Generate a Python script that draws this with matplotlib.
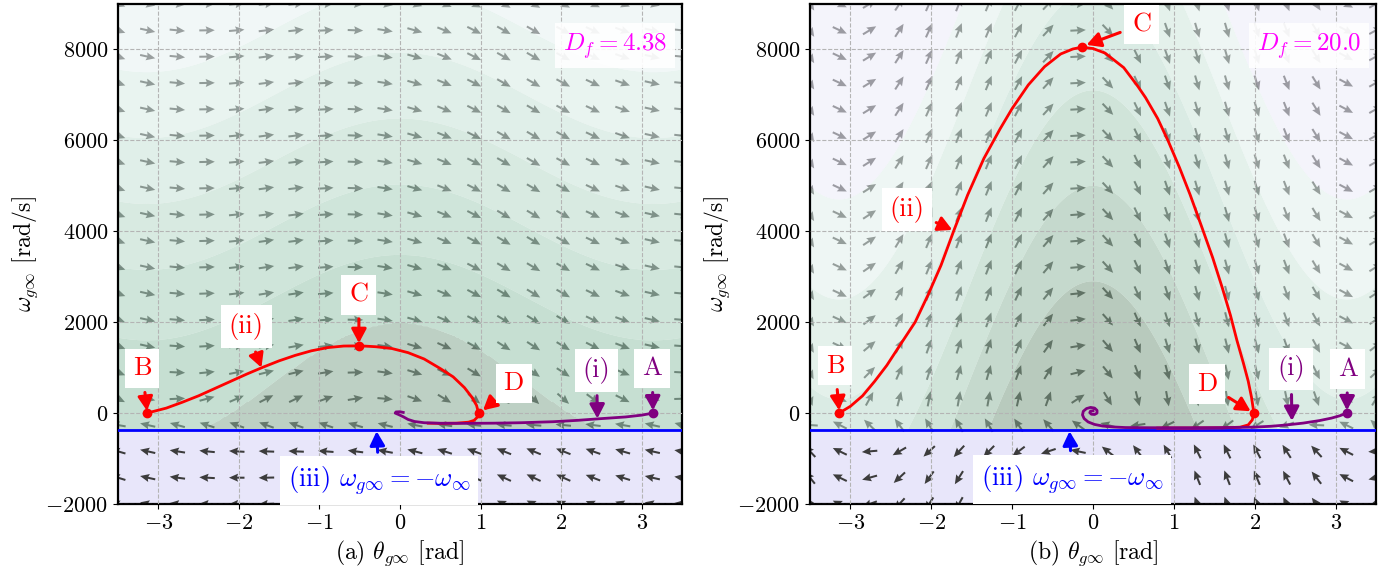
import numpy as np
import matplotlib
matplotlib.use("Agg")
import matplotlib.pyplot as plt
from matplotlib.colors import to_rgb

plt.rcParams['mathtext.fontset'] = 'cm'
plt.rcParams['font.family'] = 'serif'
plt.rcParams['font.serif'] = ['cmr10']
plt.rcParams['axes.formatter.use_mathtext'] = True

w_inf = 377.0
theta_lim = (-3.5, 3.5)
omega_lim = (-2000, 9000)
n_arrows = 20

# panel (a), D_f = 4.38
df_a = '4.38'
ii_a_theta = [-3.14, -2.9, -2.7, -2.5, -2.3, -2.1, -1.9, -1.7, -1.5, -1.3, -1.1, -0.9, -0.7,
              -0.5, -0.3, -0.1, 0.1, 0.3, 0.5, 0.66, 0.8, 0.89, 0.95, 0.975, 0.96, 0.92,
              0.85, 0.7, 0.5, 0.35]
ii_a_omega = [0, 110, 240, 380, 540, 700, 860, 1010, 1150, 1270, 1370, 1440, 1475,
              1480, 1460, 1420, 1330, 1190, 980, 797, 560, 354, 170, 0, -90, -160,
              -200, -222, -226, -222]
i_a_theta = [3.14, 3.0, 2.8, 2.47, 2.2, 1.9, 1.5, 1.16, 0.8, 0.5, 0.3, 0.18, 0.1, 0.04,
             -0.02, -0.06, -0.05, 0.0, 0.04]
i_a_omega = [0, -45, -85, -125, -160, -190, -212, -222, -226, -224, -212, -185, -140, -80,
             -30, 0, 25, 30, 15]
pt_a_theta = [3.14, -3.14, -0.51, 0.975]   # A, B, C, D
pt_a_omega = [0, 0, 1480, 0]

# panel (b), D_f = 20.0
df_b = '20.0'
ii_b_theta = [-3.14, -3.0, -2.85, -2.7, -2.55, -2.4, -2.2, -2.04, -1.88, -1.72, -1.55, -1.35,
              -1.15, -1.0, -0.8, -0.6, -0.4, -0.25, -0.14, 0.0, 0.15, 0.38, 0.55, 0.65, 0.8,
              0.93, 1.07, 1.2, 1.34, 1.48, 1.6, 1.7, 1.78, 1.86, 1.92, 1.96, 1.99, 1.97,
              1.92, 1.82, 1.6, 1.2, 0.8]
ii_b_omega = [0, 150, 380, 700, 1050, 1460, 2000, 2600, 3250, 4020, 4800, 5600,
              6250, 6700, 7220, 7620, 7900, 8010, 8050, 8020, 7920, 7600, 7200, 6940, 6480,
              5985, 5400, 4810, 4120, 3420, 2750, 2150, 1600, 1100, 700, 350, 0, -150,
              -260, -310, -325, -330, -330]
i_b_theta = [3.14, 3.05, 2.95, 2.8, 2.6, 2.4, 2.2, 2.0, 1.7, 1.2, 0.7, 0.4, 0.25, 0.12,
             0.02, -0.06, -0.11, -0.13, -0.12, -0.08, -0.03, 0.02, 0.05, 0.05, 0.02,
             -0.02, -0.04, -0.03, 0.0]
i_b_omega = [0, -60, -110, -165, -220, -260, -290, -308, -318, -322, -322, -318, -305,
             -285, -250, -195, -120, -40, 40, 100, 125, 110, 60, 0, -30, -25, 10, 45, 50]
pt_b_theta = [3.14, -3.14, -0.14, 1.99]
pt_b_omega = [0, 0, 8050, 0]

# vector field coefficients (screen-normalised) and background bands
field_a = (0.335, 0.224)
field_b = (2.87, 0.5)
band_amp_a = 1880.0
band_levels_a = [-9000, -3000, 1600, 3150, 4600, 6050, 7500, 20000]
band_colors_a = ['#bdd0c4', '#c6dfd2', '#cfe5da', '#d8eae2', '#e1efe9', '#e9f4f0', '#f2f8f8']
band_amp_b = 9000.0
band_levels_b = [-20000, -6100, -4000, -1900, 300, 2500, 4700, 20000]
band_colors_b = ['#b8cabd', '#c5d9cd', '#d0e4d9', '#daece4', '#e4f1ec', '#eef6f4', '#f4f4fb']

red, purple, blue, magenta = '#ff0000', '#800080', '#0000ff', '#ff00ff'
band_alpha = 0.55


def note(ax, text, xy, xytext, color, size=19):
    ax.annotate(text, xy=xy, xytext=xytext, color=color, fontsize=size,
                ha='center', va='center', zorder=8,
                bbox=dict(boxstyle='square,pad=0.3', fc='white', ec='none'),
                arrowprops=dict(arrowstyle='-|>,head_length=0.6,head_width=0.32',
                                color=color, lw=2.2, mutation_scale=14,
                                shrinkA=3, shrinkB=0))


def panel(ax, field, amp, levels, colors, dome, ii, i, pts, df, tag, notes):
    # lavender region below -w_inf
    ax.axhspan(omega_lim[0], -w_inf, color='#e8e6fa', zorder=0.5, lw=0)

    # direction field
    th = np.linspace(*theta_lim, n_arrows)
    om = np.linspace(*omega_lim, n_arrows)
    TH, OM = np.meshgrid(th, om)
    ca, cb = field
    U = OM
    V = -ca * (OM + w_inf) * np.sin(TH) - cb * OM
    N = np.hypot(U, V)
    ax.quiver(TH, OM, U / N, V / N, angles='uv', scale_units='inches', scale=1 / 0.155,
              pivot='mid', width=0.0036, headwidth=4, headlength=4.5, headaxislength=4,
              color='#3c3c3c', zorder=1)

    # background bands
    thf = np.linspace(*theta_lim, 400)
    omf = np.linspace(-w_inf, omega_lim[1], 400)
    THF, OMF = np.meshgrid(thf, omf)
    g = (1 + np.cos(THF)) / 2
    F = OMF - amp * g
    if dome is not None:
        F = np.where(OMF - dome[0] * g < dome[1], -5000, F)
    rgb = [tuple(1 - (1 - np.array(to_rgb(c))) / band_alpha) for c in colors]
    rgb = [tuple(np.clip(c, 0, 1)) for c in rgb]
    ax.contourf(THF, OMF, F, levels=levels, colors=rgb, alpha=band_alpha, zorder=1.5,
                antialiased=True)

    ax.axhline(-w_inf, color=blue, lw=2, zorder=3)
    ax.plot(ii[0], ii[1], color=red, lw=2, zorder=4)
    ax.plot(i[0], i[1], color=purple, lw=2, zorder=4.5)
    ax.plot(pts[0][:1], pts[1][:1], 'o', color=purple, ms=6, zorder=5)
    ax.plot(pts[0][1:], pts[1][1:], 'o', color=red, ms=6, zorder=5)

    for text, xy, xytext, color in notes:
        note(ax, text, xy, xytext, color)
    ax.text(2.67, 8080, r'$D_f = ' + df + '$', color=magenta, fontsize=18,
            ha='center', va='center', zorder=8,
            bbox=dict(boxstyle='square,pad=0.3', fc='white', ec='none', alpha=0.9))

    ax.set_xlim(*theta_lim)
    ax.set_ylim(*omega_lim)
    ax.set_xticks([-3, -2, -1, 0, 1, 2, 3])
    ax.set_yticks([-2000, 0, 2000, 4000, 6000, 8000])
    ax.tick_params(labelsize=16)
    ax.set_axisbelow(False)
    ax.grid(True, ls='--', color='#b4b4b4', lw=0.8)
    for s in ax.spines.values():
        s.set_linewidth(1.6)
    ax.set_xlabel('(' + tag + r') $\theta_{g\infty}$ [rad]', fontsize=17)
    ax.set_ylabel(r'$\omega_{g\infty}$ [rad/s]', fontsize=17)


fig = plt.figure(figsize=(13.95, 5.74), dpi=100)
ax_a = fig.add_axes([118 / 1395, 1 - 504 / 574, 564 / 1395, 500 / 574])
ax_b = fig.add_axes([810 / 1395, 1 - 504 / 574, 566 / 1395, 500 / 574])

iii = r'(iii) $\omega_{g\infty}=-\omega_\infty$'
notes_a = [('B', (-3.14, 50), (-3.2, 980), red),
           ('(ii)', (-1.72, 1000), (-1.91, 1900), red),
           ('C', (-0.51, 1540), (-0.51, 2600), red),
           ('D', (1.03, 60), (1.41, 650), red),
           ('(i)', (2.45, -120), (2.44, 945), purple),
           ('A', (3.14, 60), (3.13, 980), purple),
           (iii, (-0.29, -400), (-0.26, -1490), blue)]
notes_b = [('B', (-3.14, 60), (-3.19, 1044), red),
           ('(ii)', (-1.74, 4030), (-2.3, 4484), red),
           ('C', (-0.08, 8100), (0.6, 8549), red),
           ('D', (1.95, 40), (1.41, 640), red),
           ('(i)', (2.46, -170), (2.45, 970), purple),
           ('A', (3.14, 60), (3.15, 970), purple),
           (iii, (-0.29, -400), (-0.26, -1456), blue)]

panel(ax_a, field_a, band_amp_a, band_levels_a, band_colors_a, (2630.0, -650.0),
      (ii_a_theta, ii_a_omega), (i_a_theta, i_a_omega), (pt_a_theta, pt_a_omega),
      df_a, 'a', notes_a)
panel(ax_b, field_b, band_amp_b, band_levels_b, band_colors_b, None,
      (ii_b_theta, ii_b_omega), (i_b_theta, i_b_omega), (pt_b_theta, pt_b_omega),
      df_b, 'b', notes_b)

fig.savefig('out.png', dpi=100)
